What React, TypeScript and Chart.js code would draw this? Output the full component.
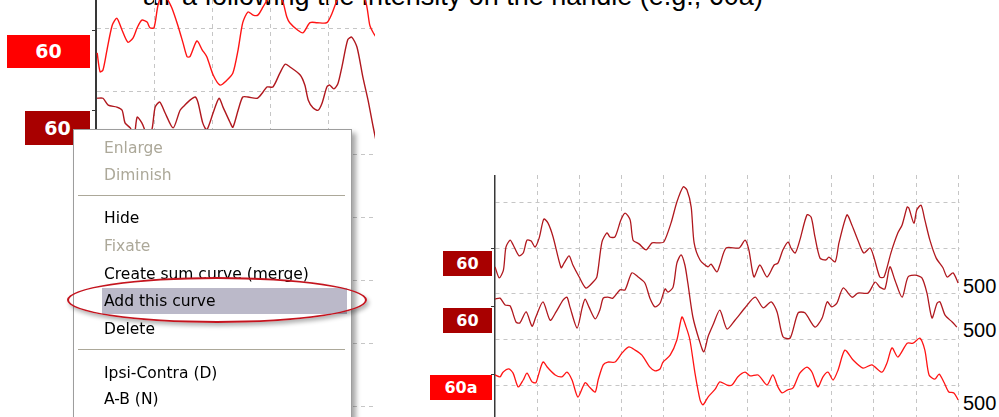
import React, { useEffect, useRef } from "react";
import { Chart, registerables } from "chart.js";
Chart.register(...registerables);

// ---------- data (x: time in 0.1 grid units, y: amplitude in 0.1 grid units) ----------
// Left panel (partly hidden by the context menu)
const LA_X = [0.2,0.7,1.2,1.9,2.8,3.6,4.5,5.5,6.4,7.1,7.9,8.8,9.3,10.0,10.7,11.6,12.4,13.1,14.1,15.0,15.7,16.2,17.4,18.3,19.1,20.2,21.4,22.6,23.6,24.5,25.3,26.2,27.1,27.9,28.8,29.5,30.7,32.1,32.9,33.4,34.8,35.7,36.9,38.1,39.8,40.7,41.6,43.8,46.4,47.2,47.8,48.6];
const LA_Y = [56.2,53.2,53.5,56.7,60.6,61.7,59.8,57.9,58.6,60.2,61.4,61.1,60.2,60.2,63.8,65.9,64.6,63.3,60.6,57.8,55.6,55.6,58.1,56.7,55.6,52.7,51.1,51.9,53.0,56.7,61.0,62.7,62.2,62.2,63.5,64.6,66.2,64.6,61.9,61.0,59.8,59.4,61.0,61.0,61.0,62.5,64.6,67.8,64.6,60.6,59.4,58.3];
const LB_X = [0.2,1.2,2.1,3.6,4.5,5.0,5.9,6.6,7.1,7.9,8.4,9.0,9.7,10.2,11.0,11.9,13.3,14.5,15.3,16.2,17.1,17.6,18.4,19.1,20.2,21.2,21.9,23.1,23.6,24.5,25.3,26.2,27.8,28.8,29.5,30.5,31.7,32.6,33.4,35.2,36.0,36.6,37.4,38.3,39.0,39.8,40.3,41.0,41.7,42.4,43.4,44.1,45.0,46.0,46.9,47.8,48.6];
const LB_Y = [49.0,49.0,47.9,47.6,47.1,45.1,44.3,43.2,46.0,45.1,44.0,42.4,44.3,47.6,48.4,46.7,44.3,47.1,47.9,48.7,49.2,48.3,45.1,44.0,46.7,49.0,47.6,45.2,44.4,47.1,49.2,49.2,49.0,50.0,50.8,50.8,53.0,54.4,54.0,52.7,51.1,48.7,47.5,47.1,48.3,50.8,51.1,50.5,51.3,54.0,58.3,58.7,57.1,52.4,48.7,44.4,40.8];
const LEFT_BASELINES = [59.7, 47.1];

// Right panel
const R1_X = [0,1,2,2.6,3.6,4.3,5.7,6.7,7.6,8.6,9.5,10.5,11.6,12.6,13.8,15.7,16.4,17.6,18.5,20.0,21.6,23.3,24.2,25.4,26.6,27.3,28.5,29.9,30.9,32.1,32.8,34.2,35.9,37.3,38.9,40.1,41.8,43.2,44.7,45.6,46.6,47.3,48.7,50.6,51.3,52.7,53.4,54.9,58.0,59.4,60.3,61.5,62.9,64.6,66.3,67.2,68.4,69.6,70.3,71.3,72.4,74.1,75.1,76.0,77.2,78.6,79.3,80.8,81.7,83.6,84.6,86.2,87.6,89.1,90.0,91.4,92.4,94.1,95.7,96.7,97.9,98.3,99.5,100.2,101.2,102.1,103.3,104.8,106.4,107.4,108.8,110];
const R1_Y = [25.9,23.5,25.2,30.2,31.7,30.7,28.3,28.9,31.7,31.5,30.2,32.2,36.3,35.4,32.4,25.7,26.7,28.3,26.3,23.7,21.3,22.6,23.7,31.3,33.3,32.4,32.4,36.1,37.6,36.1,31.7,30.9,29.6,31.1,31.1,31.3,35.4,40.0,43.3,42.6,38.9,31.1,27.4,25.9,26.5,24.8,26.3,30.0,30.0,31.7,29.6,23.7,26.3,23.7,26.3,26.7,29.6,31.3,30.0,28.9,31.7,37.2,36.7,32.4,27.8,27.4,28.0,27.0,31.1,37.2,35.4,31.7,28.9,30.0,28.0,23.7,23.7,29.1,33.3,35.0,38.9,38.7,35.4,38.3,39.3,36.1,31.7,27.8,25.7,23.7,24.6,22.4];
const R2_X = [0,1.2,2.4,3.6,5.0,5.9,7.4,8.8,9.7,11.4,13.1,14.5,16.2,17.1,17.8,19.5,20.7,21.4,22.3,23.8,24.9,25.7,26.8,28.0,29.7,30.9,32.5,34.0,35.6,36.8,38.0,39.2,40.4,41.1,42.3,43.2,44.2,45.1,45.8,47.0,48.5,49.6,50.6,51.8,53.4,55.1,57.0,59.4,61.8,63.7,65.6,67.0,68.4,70.1,72.0,73.6,76.0,77.7,78.9,80.0,81.2,82.7,84.8,86.2,88.6,90.3,91.4,92.6,93.8,95.0,96.7,98.1,99.8,101.4,102.6,103.8,105.0,105.7,106.9,108.6,109.7];
const R2_Y = [18.9,19.1,17.6,17.4,13.9,13.7,16.1,13.0,15.0,18.3,14.3,16.1,18.7,19.3,17.2,12.6,17.0,18.9,17.2,14.6,16.5,19.1,19.3,19.1,20.9,20.9,24.6,23.7,22.4,19.1,17.2,18.0,21.1,20.4,21.5,26.7,28.5,26.3,22.4,15.0,10.0,7.4,10.7,13.3,16.5,12.4,14.3,17.0,19.3,17.0,18.3,16.1,10.7,10.4,15.9,15.9,12.8,14.8,18.3,17.2,18.0,21.3,19.3,20.2,20.2,22.6,21.5,21.1,25.9,23.0,19.3,23.7,24.1,23.5,20.2,14.8,18.0,18.3,15.4,13.9,12.8];
const R3_X = [0,1.2,1.9,3.3,4.3,5.5,6.7,7.6,8.8,9.7,10.2,11.4,12.6,14.3,15.9,17.1,18.3,19.7,21.4,22.6,23.8,24.5,25.7,26.8,28.5,30.2,31.8,33.3,34.9,36.8,38.0,39.2,39.9,41.6,43.2,44.4,45.4,46.3,47.5,48.7,49.4,50.6,52.3,53.4,55.1,56.3,57.7,59.4,60.6,62.5,64.6,66.0,67.2,68.2,69.4,70.8,72.4,74.1,75.3,76.7,77.9,79.1,80.3,81.5,83.1,85.0,87.4,89.5,91.9,93.1,94.3,95.7,97.9,99.3,100.9,102.1,103.1,104.5,105.5,106.7,107.8,109.0,110.0];
const R3_Y = [2.4,2.0,3.0,3.7,2.8,-0.2,1.3,2.8,0.9,0.7,2.0,5.2,3.9,2.4,2.0,3.0,1.3,-2.4,0.7,-0.4,-1.3,1.3,4.6,5.2,5.2,7.2,8.5,7.8,6.7,4.1,3.3,3.7,5.2,6.7,10.0,15.0,12.8,10.0,2.8,-3.0,-4.1,-2.4,-0.7,0.9,0.2,0.2,2.0,3.0,2.2,2.4,0.2,2.4,-0.2,-1.5,-0.9,-0.4,2.8,4.1,3.0,-0.2,2.0,3.0,1.3,3.5,7.8,5.7,3.9,4.6,3.0,5.0,8.3,6.3,9.3,9.3,10.4,7.8,2.4,1.5,2.6,0.7,-1.3,-1.5,-3.0];
const RIGHT_BASELINES = [29.8, 17.2, 2.4];

const LEFT_X_GRID = [10, 20, 30, 40];
const LEFT_Y_GRID = [0, 10, 20, 30, 40, 50, 60];
const RIGHT_X_GRID = [10, 20, 30, 40, 50, 60, 70, 80, 90, 100, 110];
const RIGHT_Y_GRID = [0, 10, 20, 30, 40];

const LEFT_LABELS = ["60", "60"];
const RIGHT_LABELS = ["60", "60", "60a"];
const RIGHT_END_LABELS = ["500", "500", "500"];
const MENU_ITEMS = [
  { label: "Enlarge", disabled: true },
  { label: "Diminish", disabled: true },
  { sep: true },
  { label: "Hide" },
  { label: "Fixate", disabled: true },
  { label: "Create sum curve (merge)" },
  { label: "Add this curve", highlight: true },
  { label: "Delete" },
  { sep: true },
  { label: "Ipsi-Contra (D)" },
  { label: "A-B (N)" },
];
const TITLE_TEXT = "air-a following the intensity on the handle (e.g., 60a)";

// ---------- styles ----------
const GRID = "#c6c6c6";
const AXIS = "#383838";
const BRIGHT = "#ff1414";
const DARK = "#b0181e";
const BOX_BRIGHT = "#ff0000";
const BOX_DARK = "#a80000";

function zip(xs: number[], ys: number[]) {
  return xs.map((x, i) => ({ x, y: ys[i] }));
}

function panelOptions(xMax: number, yMin: number, yMax: number, xGrid: number[], yGrid: number[], baselines: number[], axisWidth: number) {
  return {
    responsive: false,
    animation: false,
    events: [],
    layout: { padding: 0 },
    plugins: { legend: { display: false }, tooltip: { enabled: false } },
    elements: { point: { radius: 0 }, line: { tension: 0.25, borderWidth: 1.3 } },
    scales: {
      x: {
        type: "linear",
        min: 0,
        max: xMax,
        afterBuildTicks: (s: any) => { s.ticks = xGrid.map((v) => ({ value: v })); },
        ticks: { display: false },
        grid: { color: GRID, lineWidth: 1, drawTicks: false },
        border: { display: false, dash: [4, 4] },
      },
      y: {
        type: "linear",
        min: yMin,
        max: yMax,
        afterBuildTicks: (s: any) => {
          s.ticks = [...yGrid, ...baselines].sort((a, b) => a - b).map((v) => ({ value: v }));
        },
        ticks: { display: false },
        grid: {
          color: (c: any) => (baselines.includes(c.tick && c.tick.value) ? "rgba(0,0,0,0)" : GRID),
          tickColor: (c: any) => (baselines.includes(c.tick && c.tick.value) ? AXIS : "rgba(0,0,0,0)"),
          tickLength: 4,
          drawTicks: true,
          lineWidth: 1,
        },
        border: { display: true, color: AXIS, width: axisWidth, dash: [4, 4] },
      },
    },
  };
}

function Panel(props: { left: number; top: number; width: number; height: number; datasets: any[]; options: any }) {
  const ref = useRef<HTMLCanvasElement>(null);
  useEffect(() => {
    const chart = new Chart(ref.current as HTMLCanvasElement, {
      type: "line",
      data: { datasets: props.datasets },
      options: props.options,
    } as any);
    return () => chart.destroy();
  }, []);
  return (
    <canvas
      ref={ref}
      width={props.width}
      height={props.height}
      style={{ position: "absolute", left: props.left, top: props.top, width: props.width, height: props.height }}
    />
  );
}

const boxStyle = (left: number, top: number, w: number, h: number, bg: string, size: number): React.CSSProperties => ({
  position: "absolute",
  left,
  top,
  width: w,
  height: h,
  background: bg,
  color: "#fff",
  fontFamily: "'DejaVu Sans', Verdana, sans-serif",
  fontWeight: "bold",
  fontSize: size,
  lineHeight: h + "px",
  textAlign: "center",
});

export default function App() {
  const leftDatasets = [
    { data: zip(LA_X, LA_Y), borderColor: BRIGHT, borderWidth: 1.4, pointRadius: 0 },
    { data: zip(LB_X, LB_Y), borderColor: DARK, borderWidth: 1.4, pointRadius: 0 },
  ];
  const rightDatasets = [
    { data: zip(R1_X, R1_Y), borderColor: DARK, borderWidth: 1.3, pointRadius: 0 },
    { data: zip(R2_X, R2_Y), borderColor: DARK, borderWidth: 1.3, pointRadius: 0 },
    { data: zip(R3_X, R3_Y), borderColor: BRIGHT, borderWidth: 1.3, pointRadius: 0 },
  ];
  const leftOptions = panelOptions(48.1, -1.59, 64.6, LEFT_X_GRID, LEFT_Y_GRID, LEFT_BASELINES, 2);
  const rightOptions = panelOptions(110.45, -6.74, 45.87, RIGHT_X_GRID, RIGHT_Y_GRID, RIGHT_BASELINES, 1.5);

  const itemCenters = [148, 175, 195, 218, 246, 274, 301, 329, 349, 373, 399];

  return (
    <div style={{ position: "fixed", left: 0, top: 0, width: 999, height: 417, overflow: "hidden", background: "#fff" }}>
      <div
        style={{
          position: "absolute",
          left: 143,
          top: -17,
          fontFamily: "'Liberation Sans', Arial, sans-serif",
          fontSize: 27,
          lineHeight: "27px",
          whiteSpace: "nowrap",
          color: "#000",
        }}
      >
        {TITLE_TEXT}
      </div>

      <Panel left={92} top={0} width={283} height={417} datasets={leftDatasets} options={leftOptions} />
      <div style={boxStyle(7, 35, 83, 33, BOX_BRIGHT, 19)}>{LEFT_LABELS[0]}</div>
      <div style={boxStyle(25, 111, 65, 34, BOX_DARK, 19)}>{LEFT_LABELS[1]}</div>

      {/* context menu */}
      <div
        style={{
          position: "absolute",
          left: 73,
          top: 129,
          width: 277,
          height: 320,
          background: "#fff",
          border: "1px solid #9d9d9d",
          boxShadow: "4px 4px 5px rgba(0,0,0,0.35)",
        }}
      />
      <div style={{ position: "absolute", left: 102, top: 288, width: 245, height: 26, background: "#bbb9c9" }} />
      {MENU_ITEMS.map((it: any, i) =>
        it.sep ? (
          <div key={i} style={{ position: "absolute", left: 78, top: itemCenters[i], width: 267, height: 1, background: "#aca899" }} />
        ) : (
          <div
            key={i}
            style={{
              position: "absolute",
              left: 104,
              top: itemCenters[i] - 13.5,
              height: 27,
              lineHeight: "27px",
              fontFamily: "'DejaVu Sans', Verdana, sans-serif",
              fontSize: 15.5,
              whiteSpace: "nowrap",
              color: it.disabled ? "#aca899" : "#000",
            }}
          >
            {it.label}
          </div>
        )
      )}
      <div
        style={{
          position: "absolute",
          left: 67,
          top: 277,
          width: 300,
          height: 46,
          borderRadius: "50%",
          border: "2.5px solid #c4141e",
          boxSizing: "border-box",
          boxShadow: "2px 3px 4px rgba(0,0,0,0.3)",
        }}
      />

      <Panel left={491} top={175} width={469} height={242} datasets={rightDatasets} options={rightOptions} />
      <div style={boxStyle(443, 251, 49, 25, BOX_DARK, 16)}>{RIGHT_LABELS[0]}</div>
      <div style={boxStyle(443, 308, 49, 25, BOX_DARK, 16)}>{RIGHT_LABELS[1]}</div>
      <div style={boxStyle(430, 375, 62, 25, BOX_BRIGHT, 16)}>{RIGHT_LABELS[2]}</div>
      {RIGHT_END_LABELS.map((t, i) => (
        <div
          key={i}
          style={{
            position: "absolute",
            left: 963,
            top: [276, 320, 393][i],
            fontFamily: "'Liberation Sans', Arial, sans-serif",
            fontSize: 20,
            lineHeight: "20px",
            color: "#000",
            whiteSpace: "nowrap",
          }}
        >
          {t}
        </div>
      ))}
    </div>
  );
}
